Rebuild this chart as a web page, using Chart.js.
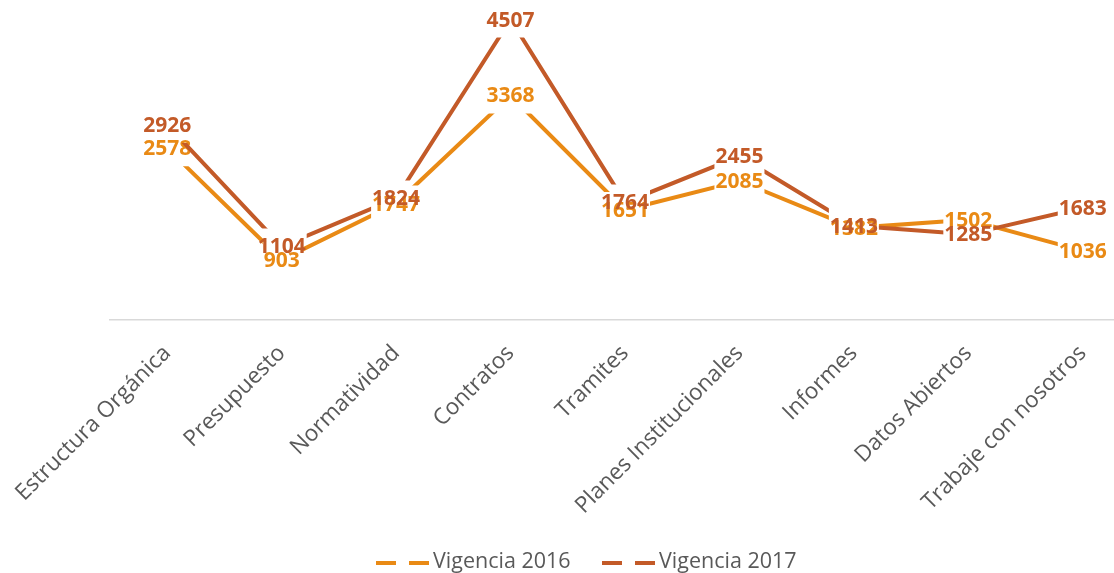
<!DOCTYPE html>
<html>
<head>
<meta charset="utf-8">
<script src="https://cdn.jsdelivr.net/npm/chart.js@4/dist/chart.umd.min.js"></script>
<style>
  html, body { margin: 0; padding: 0; background: #fff; overflow: hidden; }
  #wrap { position: relative; width: 1140px; height: 573px; }
</style>
</head>
<body>
<div id="wrap"><canvas id="grafico"></canvas></div>
<script>
// ----------------------
// DATOS
// ----------------------
const categorias = [
  'Estructura Orgánica', 'Presupuesto', 'Normatividad', 'Contratos', 'Tramites',
  'Planes Institucionales', 'Informes', 'Datos Abiertos', 'Trabaje con nosotros'
];
const vigencia2016 = [2578, 903, 1747, 3368, 1651, 2085, 1382, 1502, 1036];
const vigencia2017 = [2926, 1104, 1824, 4507, 1764, 2455, 1413, 1285, 1683];

const nombres = ['Vigencia 2016', 'Vigencia 2017'];
const colores = ['#E98A15', '#C35A28'];

const fuenteEtiqueta = 'bold 21px "Open Sans", sans-serif';

// cajas de las etiquetas (centradas en cada punto)
function cajas(chart, meta, ds) {
  const ctx = chart.ctx;
  ctx.save();
  ctx.font = fuenteEtiqueta;
  const res = meta.data.map((pt, i) => {
    const w = ctx.measureText(String(ds.data[i])).width;
    return { x: pt.x - w / 2 - 1, y: pt.y - 18, w: w + 2, h: 36 };
  });
  ctx.restore();
  return res;
}

// la linea de cada serie se corta alrededor de sus propias etiquetas
const etiquetasPlugin = {
  id: 'etiquetas',
  beforeDatasetDraw(chart, args) {
    const ctx = chart.ctx;
    const ds = chart.data.datasets[args.index];
    ctx.save();
    ctx.beginPath();
    ctx.rect(0, 0, chart.width, chart.height);
    cajas(chart, args.meta, ds).forEach(b => ctx.rect(b.x, b.y, b.w, b.h));
    ctx.clip('evenodd');
  },
  afterDatasetDraw(chart, args) {
    const ctx = chart.ctx;
    ctx.restore();
    const ds = chart.data.datasets[args.index];
    ctx.save();
    ctx.font = fuenteEtiqueta;
    ctx.textAlign = 'center';
    ctx.textBaseline = 'middle';
    ctx.fillStyle = ds.borderColor;
    args.meta.data.forEach((pt, i) => {
      ctx.fillText(String(ds.data[i]), pt.x, pt.y + 1);
    });
    ctx.restore();
  }
};

// leyenda con trazos discontinuos
const leyendaPlugin = {
  id: 'leyenda',
  afterDraw(chart) {
    const ctx = chart.ctx;
    const posiciones = [376, 602];
    ctx.save();
    ctx.font = '21.5px "Open Sans", sans-serif';
    ctx.textBaseline = 'middle';
    nombres.forEach((n, i) => {
      const x = posiciones[i];
      const y = 563;
      ctx.strokeStyle = colores[i];
      ctx.lineWidth = 4;
      ctx.setLineDash([20, 13]);
      ctx.beginPath();
      ctx.moveTo(x, y);
      ctx.lineTo(x + 53, y);
      ctx.stroke();
      ctx.setLineDash([]);
      ctx.fillStyle = '#595959';
      ctx.fillText(n, x + 57, y - 1);
    });
    ctx.restore();
  }
};

const ctx = document.getElementById('grafico').getContext('2d');
new Chart(ctx, {
  type: 'line',
  data: {
    labels: categorias,
    datasets: [
      {
        label: nombres[0],
        data: vigencia2016,
        borderColor: colores[0],
        backgroundColor: colores[0],
        borderWidth: 4,
        pointRadius: 0,
        tension: 0,
        order: 2
      },
      {
        label: nombres[1],
        data: vigencia2017,
        borderColor: colores[1],
        backgroundColor: colores[1],
        borderWidth: 4,
        pointRadius: 0,
        tension: 0,
        order: 1
      }
    ]
  },
  options: {
    responsive: true,
    maintainAspectRatio: false,
    animation: false,
    layout: { padding: { left: 110, right: 0, top: 0, bottom: 0 } },
    plugins: {
      legend: { display: false },
      tooltip: { enabled: false }
    },
    scales: {
      x: {
        offset: true,
        grid: { display: false, drawTicks: false },
        border: { display: true, color: '#D9D9D9', width: 1.5 },
        ticks: {
          color: '#595959',
          font: { family: '"Open Sans", sans-serif', size: 22.5 },
          minRotation: 45,
          maxRotation: 45,
          autoSkip: false,
          padding: 20
        },
        afterFit(scale) {
          scale.height = 253;
          scale.paddingLeft = 0;
          scale.paddingRight = 0;
        }
      },
      y: {
        display: false,
        min: 0,
        max: 4800
      }
    }
  },
  plugins: [etiquetasPlugin, leyendaPlugin]
});
</script>
</body>
</html>
